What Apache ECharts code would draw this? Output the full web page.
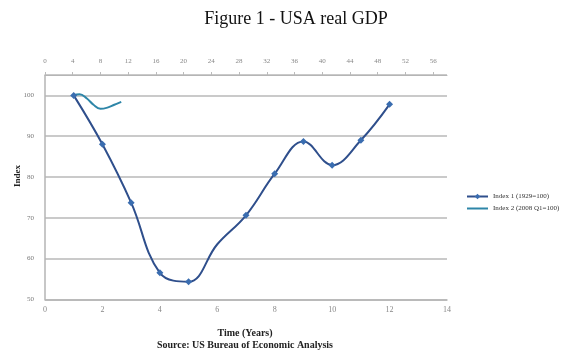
<!DOCTYPE html>
<html><head><meta charset="utf-8">
<script src="https://cdn.jsdelivr.net/npm/echarts@6/dist/echarts.min.js"></script>
<style>html,body{margin:0;padding:0;background:#fff}#c{width:576px;height:362px}</style>
</head><body><div id="c"></div>
<script>
// Index 1: years vs index (1929 = 100)
var years1 = [1, 2, 3, 4, 5, 6, 7, 8, 9, 10, 11, 12];
var index1 = [100, 88.0, 73.7, 56.5, 54.3, 63.5, 70.6, 80.8, 88.7, 82.9, 89.0, 97.8];
// Index 2: quarters vs index (2008 Q1 = 100)
var quarters2 = [4, 5, 6, 7, 8, 9, 10, 11];
var index2 = [100, 100.3, 99.3, 97.7, 96.7, 97.0, 97.7, 98.4];
var yearTicks = [0, 2, 4, 6, 8, 10, 12, 14];
var quarterTicks = [0, 4, 8, 12, 16, 20, 24, 28, 32, 36, 40, 44, 48, 52, 56];
var indexTicks = [50, 60, 70, 80, 90, 100];

var serif = '"Liberation Serif", "DejaVu Serif", serif';
var c1 = '#2f4f8c', m1 = '#3a6db0', c2 = '#2e86a8';

var s1 = years1.map(function (x, i) {
  var d = { value: [x, index1[i]] };
  if (x === 6) d.symbolSize = 0;
  return d;
});
var s2 = quarters2.map(function (x, i) { return [x, index2[i]]; });

var chart = echarts.init(document.getElementById('c'), null, { renderer: 'canvas' });
chart.setOption({
  animation: false,
  title: {
    text: 'Figure 1 - USA real GDP', left: 291, top: 5, textAlign: 'center',
    textStyle: { fontFamily: serif, fontSize: 18, fontWeight: 'normal', color: '#111' }
  },
  graphic: [
    { type: 'text', x: 245, y: 333, style: { text: 'Time (Years)', fontFamily: serif, fontSize: 10, fontWeight: 'bold', fill: '#222', align: 'center', verticalAlign: 'middle' } },
    { type: 'text', x: 245, y: 345, style: { text: 'Source: US Bureau of Economic Analysis', fontFamily: serif, fontSize: 10, fontWeight: 'bold', fill: '#222', align: 'center', verticalAlign: 'middle' } },
    { type: 'text', x: 18, y: 176, rotation: Math.PI / 2, style: { text: 'Index', fontFamily: serif, fontSize: 9, fontWeight: 'bold', fill: '#222', align: 'center', verticalAlign: 'middle' } }
  ],
  legend: {
    orient: 'vertical', left: 461, top: 188, itemGap: 5, itemWidth: 21, itemHeight: 7,
    textStyle: { fontFamily: serif, fontSize: 7, color: '#333' },
    data: [
      { name: 'Index 1 (1929=100)' },
      { name: 'Index 2 (2008 Q1=100)', itemStyle: { opacity: 0 } }
    ]
  },
  grid: { left: 45, right: 129, top: 75, bottom: 62.7 },
  xAxis: [
    {
      type: 'value', position: 'bottom', min: yearTicks[0], max: yearTicks[yearTicks.length - 1], interval: 2,
      axisLine: { show: true, lineStyle: { color: '#b5b5b5', width: 1.5 } },
      axisTick: { show: false }, splitLine: { show: false },
      axisLabel: { color: '#888', fontFamily: serif, fontSize: 8, margin: 7 }
    },
    {
      type: 'value', position: 'top', min: 0, max: 58, interval: 4,
      axisLine: { show: true, lineStyle: { color: '#b5b5b5', width: 1 } },
      axisTick: { show: true, inside: false, length: 3, lineStyle: { color: '#bbb' } },
      splitLine: { show: false },
      axisLabel: { color: '#888', fontFamily: serif, fontSize: 7, margin: 10, showMaxLabel: false,
        formatter: function (v) { return quarterTicks.indexOf(v) >= 0 ? String(v) : ''; } }
    }
  ],
  yAxis: {
    type: 'value', min: 50, max: 105, interval: 10,
    axisLine: { show: true, lineStyle: { color: '#b5b5b5', width: 1.5 } },
    axisTick: { show: false },
    splitLine: { show: true, lineStyle: { color: '#b8b8b8', width: 1.5 } },
    axisLabel: { color: '#777', fontFamily: serif, fontSize: 7, margin: 11,
      formatter: function (v) { return indexTicks.indexOf(v) >= 0 ? String(v) : ''; } }
  },
  series: [
    {
      name: 'Index 1 (1929=100)', type: 'line', xAxisIndex: 0, smooth: 0.4, data: s1,
      symbol: 'diamond', symbolSize: 7,
      lineStyle: { color: c1, width: 2 }, itemStyle: { color: m1 }
    },
    {
      name: 'Index 2 (2008 Q1=100)', type: 'line', xAxisIndex: 1, smooth: 0.4, data: s2,
      showSymbol: false, symbol: 'none',
      lineStyle: { color: c2, width: 2 }, itemStyle: { color: c2 }
    }
  ]
});
</script></body></html>
